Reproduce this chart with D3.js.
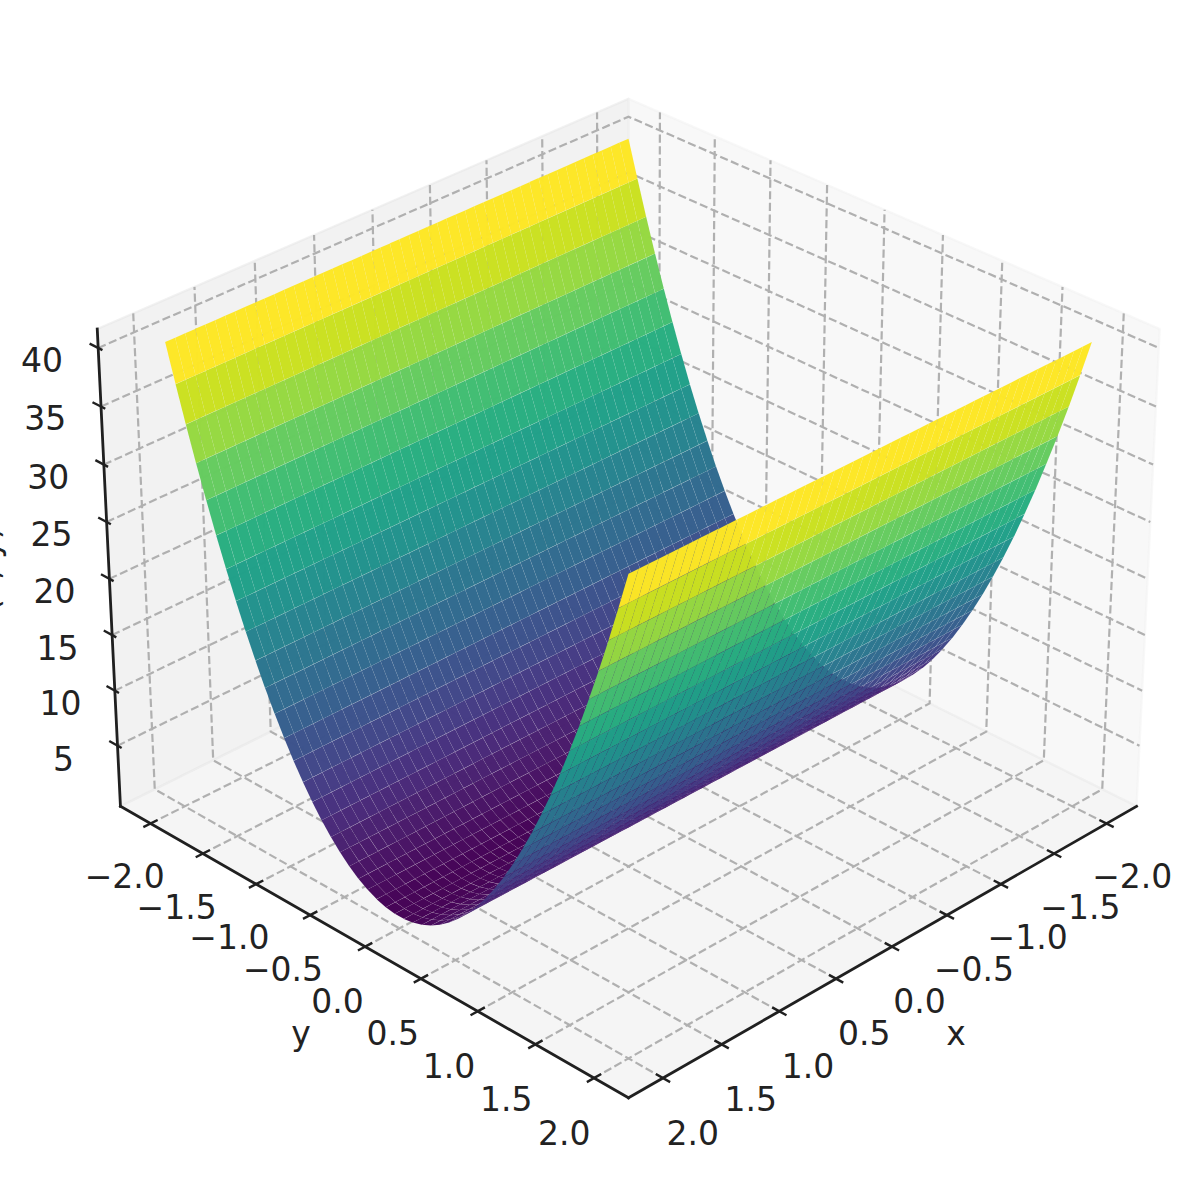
<!DOCTYPE html>
<html><head><meta charset="utf-8">
<style>html,body{margin:0;padding:0;background:#fff;overflow:hidden}svg{display:block}text{font-family:"DejaVu Sans";fill:#222}</style>
<script src="https://cdn.jsdelivr.net/npm/d3@7"></script></head><body>
<script>
const xValues=[-2,-1.918,-1.837,-1.755,-1.673,-1.592,-1.51,-1.429,-1.347,-1.265,-1.184,-1.102,-1.02,-0.939,-0.857,-0.776,-0.694,-0.612,-0.531,-0.449,-0.367,-0.286,-0.204,-0.122,-0.041,0.041,0.122,0.204,0.286,0.367,0.449,0.531,0.612,0.694,0.776,0.857,0.939,1.02,1.102,1.184,1.265,1.347,1.429,1.51,1.592,1.673,1.755,1.837,1.918,2];
const yValues=xValues.slice();
// surface height read along one row; rows do not change with x
const zProfile=[40.5,37.3,34.24,31.3,28.5,25.84,23.31,20.91,18.64,16.51,14.51,12.65,10.91,9.31,7.85,6.51,5.31,4.25,3.32,2.52,1.85,1.32,0.92,0.65,0.52,0.52,0.65,0.92,1.32,1.85,2.52,3.32,4.25,5.31,6.51,7.85,9.31,10.91,12.65,14.51,16.51,18.64,20.91,23.31,25.84,28.5,31.3,34.24,37.3,40.5];
const xTicks=[-2,-1.5,-1,-0.5,0,0.5,1,1.5,2];
const yTicks=[-2,-1.5,-1,-0.5,0,0.5,1,1.5,2];
const zTicks=[5,10,15,20,25,30,35,40];
const xName="x",yName="y",zName="f(x, y)";

const W=1202,H=1180;
const svg=d3.select("body").append("svg").attr("width",W).attr("height",H);
const xlim=[-2.29,2.29],ylim=[-2.29,2.29],zlim=[-0.566,41.6];
const bx=1.19048,bz=0.89286,dist=10;
const sx=d3.scaleLinear().domain(xlim).range([0,bx]);
const sy=d3.scaleLinear().domain(ylim).range([0,bx]);
const sz=d3.scaleLinear().domain(zlim).range([0,bz]);
const el=30*Math.PI/180,az=45*Math.PI/180;
const w=[Math.cos(el)*Math.cos(az),Math.cos(el)*Math.sin(az),Math.sin(el)];
const u=[-Math.sin(az),Math.cos(az),0];
const v=[w[1]*u[2]-w[2]*u[1],w[2]*u[0]-w[0]*u[2],w[0]*u[1]-w[1]*u[0]];
const px=d3.scaleLinear().domain([-0.1,0.1]).range([628.5-617,628.5+617]);
const py=d3.scaleLinear().domain([-0.1,0.1]).range([573+617,573-617]);
function cam(x,y,z){
  const r=[sx(x)-bx/2,sy(y)-bx/2,sz(z)-bz/2];
  const dot=(a,b)=>a[0]*b[0]+a[1]*b[1]+a[2]*b[2];
  const d=dist-dot(r,w);
  return {X:px(dot(r,u)/d),Y:py(dot(r,v)/d),d};
}
const P=(x,y,z)=>{const c=cam(x,y,z);return [c.X,c.Y];};
const line=d3.line();
const poly=d3.line().curve(d3.curveLinearClosed);
const [x0,x1]=xlim,[y0,y1]=ylim,[z0,z1]=zlim;

// panes
const panes=[
 {c:"#e6e6e6",pts:[[x1,y0,z0],[x0,y0,z0],[x0,y0,z1],[x1,y0,z1]]},
 {c:"#f2f2f2",pts:[[x0,y0,z0],[x0,y1,z0],[x0,y1,z1],[x0,y0,z1]]},
 {c:"#ececec",pts:[[x0,y0,z0],[x1,y0,z0],[x1,y1,z0],[x0,y1,z0]]}];
svg.append("g").selectAll("path").data(panes).join("path")
 .attr("d",p=>poly(p.pts.map(q=>P(...q))))
 .attr("fill",p=>p.c).attr("fill-opacity",0.5)
 .attr("stroke",p=>p.c).attr("stroke-opacity",0.5).attr("stroke-width",2.2).attr("stroke-linejoin","round");

// grid
const gridData=[
 ...xTicks.map(t=>[[t,y1,z0],[t,y0,z0],[t,y0,z1]]),
 ...yTicks.map(t=>[[x1,t,z0],[x0,t,z0],[x0,t,z1]]),
 ...zTicks.map(t=>[[x1,y0,t],[x0,y0,t],[x0,y1,t]])];
svg.append("g").selectAll("path").data(gridData).join("path")
 .attr("d",g=>line(g.map(q=>P(...q)))).attr("fill","none")
 .attr("stroke","#b0b0b0").attr("stroke-width",2.2).attr("stroke-dasharray","8.2,3.5");

// axis lines and ticks
const axisData=[[[x0,y1,z0],[x1,y1,z0]],[[x1,y0,z0],[x1,y1,z0]],[[x1,y0,z0],[x1,y0,z1]]];
svg.append("g").selectAll("path").data(axisData).join("path")
 .attr("d",g=>line(g.map(q=>P(...q)))).attr("fill","none").attr("stroke","#202020").attr("stroke-width",2.8).attr("stroke-linecap","square");
const tIn=0.06,tOut=0.06,zIn=0.04,zOut=0.08;
const tickData=[
 ...xTicks.map(t=>[[t,y1-tIn,z0],[t,y1+tOut,z0]]),
 ...yTicks.map(t=>[[x1-tIn,t,z0],[x1+tOut,t,z0]]),
 ...zTicks.map(t=>[[x1,y0+zIn,t],[x1,y0-zOut,t]])];
svg.append("g").selectAll("path").data(tickData).join("path")
 .attr("d",g=>line(g.map(q=>P(...q)))).attr("fill","none").attr("stroke","#202020").attr("stroke-width",2.4);

// tick labels
const fmt=t=>(t<0?"\u2212":"")+Math.abs(t).toFixed(1);
const lab=[
 ...xTicks.map(t=>({p:P(t*0.995,y1+0.24,z0-3.5),s:fmt(t)})),
 ...yTicks.map(t=>({p:P(x1+0.24,t*0.995,z0-3.5),s:fmt(t)})),
 ...zTicks.map(t=>({p:P(x1+0.35,y0-0.115,t+0.08),s:String(t)})),
 {p:P(0.22,y1+0.74,z0-2.2),s:xName},
 {p:P(x1+0.74,0.22,z0-2.2),s:yName}];
svg.append("g").selectAll("text").data(lab).join("text")
 .attr("x",d=>d.p[0]).attr("y",d=>d.p[1]).attr("dy","0.36em")
 .attr("text-anchor","middle").attr("font-size",33).text(d=>d.s);
svg.append("text").attr("text-anchor","middle").attr("font-size",33)
 .attr("transform","translate(-1,575) rotate(-90)").text(zName);

// surface
const faces=[];
for(let i=0;i<xValues.length-1;i++)for(let j=0;j<yValues.length-1;j++){
  const c=[[xValues[i],yValues[j],zProfile[j]],[xValues[i+1],yValues[j],zProfile[j]],[xValues[i+1],yValues[j+1],zProfile[j+1]],[xValues[i],yValues[j+1],zProfile[j+1]]];
  faces.push({c,z:d3.mean(c,q=>q[2]),d:d3.mean(c,q=>cam(...q).d)});
}
faces.sort((a,b)=>b.d-a.d);
const color=d3.scaleSequential(d3.interpolateViridis).domain(d3.extent(faces,f=>f.z));
const inset=pts=>{const cx=d3.mean(pts,p=>p[0]),cy=d3.mean(pts,p=>p[1]);return pts.map(p=>{const dx=p[0]-cx,dy=p[1]-cy,l=Math.hypot(dx,dy)||1,k=Math.max(0,1-0.08/l);return [cx+dx*k,cy+dy*k];});};
svg.append("g").selectAll("path").data(faces).join("path")
 .attr("d",f=>poly(inset(f.c.map(q=>P(...q))))).attr("fill",f=>color(f.z)).attr("fill-opacity",0.985);
</script></body></html>
